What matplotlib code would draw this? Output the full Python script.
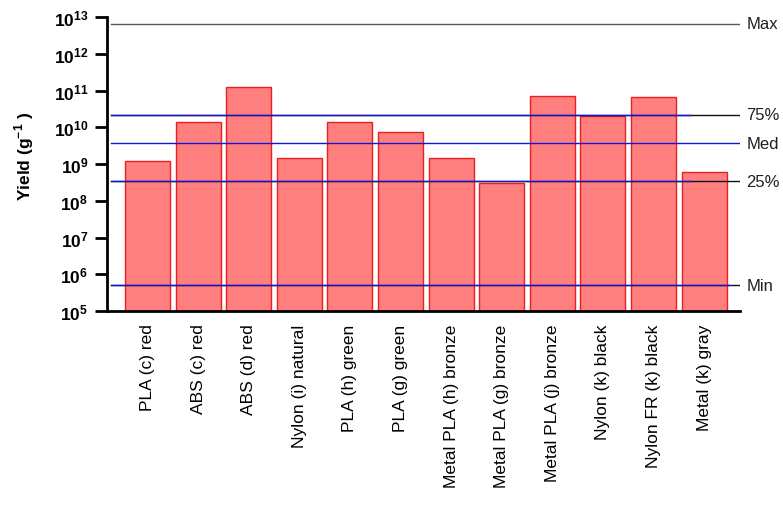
import numpy as np
import matplotlib
matplotlib.use('Agg')
import matplotlib.pyplot as plt

plt.rcParams['font.family'] = ['Liberation Sans', 'DejaVu Sans']
plt.rcParams['mathtext.fontset'] = 'custom'
plt.rcParams['mathtext.rm'] = 'Liberation Sans'
plt.rcParams['mathtext.bf'] = 'Liberation Sans:bold'

materials = ['PLA (c) red', 'ABS (c) red', 'ABS (d) red', 'Nylon (i) natural',
             'PLA (h) green', 'PLA (g) green', 'Metal PLA (h) bronze',
             'Metal PLA (g) bronze', 'Metal PLA (j) bronze', 'Nylon (k) black',
             'Nylon FR (k) black', 'Metal (k) gray']
yields = [1.2e9, 1.4e10, 1.3e11, 1.45e9, 1.4e10, 7.5e9, 1.45e9,
          3.0e8, 7.2e10, 2.1e10, 6.8e10, 6.0e8]

# reference levels drawn across the plot
ref_names = ['Max', '75%', 'Med', '25%', 'Min']
ref_values = [6.6e12, 2.2e10, 3.7e9, 3.4e8, 5.1e5]

ytick_vals = [10.0**k for k in range(5, 14)]
ytick_labels = [r'$\mathbf{10^{%d}}$' % k for k in range(5, 14)]

fig = plt.figure(figsize=(7.83, 5.06), dpi=100)
ax = fig.add_axes([0.1367, 0.3834, 0.8083, 0.5804])

x = np.arange(len(materials))
ax.bar(x, yields, width=0.89, color='#FF7F7F', edgecolor='#E82020',
       linewidth=1.0, zorder=2)

ax.set_yscale('log')
ax.set_ylim(1e5, 1e13)
ax.set_xlim(-0.8, 11.71)

# black lines over full width, blue lines over the bar area
x0 = -0.72
for name, v in zip(ref_names, ref_values):
    if name == 'Max':
        ax.plot([x0, 11.71], [v, v], color='#555566', lw=1.0, zorder=3)
    elif name == 'Med':
        ax.plot([x0, 11.71], [v, v], color='#1515D0', lw=1.0, zorder=3)
    else:
        ax.plot([x0, 11.71], [v, v], color='#101020', lw=1.0, zorder=3)
        end = 11.5 if name == 'Min' else 10.75
        ax.plot([x0, end], [v, v], color='#1515D0', lw=1.0, zorder=4)
    ax.text(11.84, v, name, va='center', ha='left', fontsize=12,
            color='#202020')

ax.set_yticks(ytick_vals, ytick_labels)
ax.minorticks_off()
ax.tick_params(axis='y', which='major', labelsize=12.5, length=8.5, width=2,
               direction='out', pad=5)
ax.set_xticks(x, materials, rotation=90, fontsize=12.5)
ax.tick_params(axis='x', length=0, pad=9)
for lab in ax.get_xticklabels():
    lab.set_verticalalignment('top')

ax.set_ylabel(r'Yield (g$^{\mathbf{-1}}$ )', fontsize=12.5, fontweight='bold')
ax.yaxis.set_label_coords(-0.112, 0.53)

ax.spines['top'].set_visible(False)
ax.spines['right'].set_visible(False)
ax.spines['left'].set_linewidth(2)
ax.spines['bottom'].set_linewidth(2)

plt.savefig('out.png', dpi=100)
plt.close()
